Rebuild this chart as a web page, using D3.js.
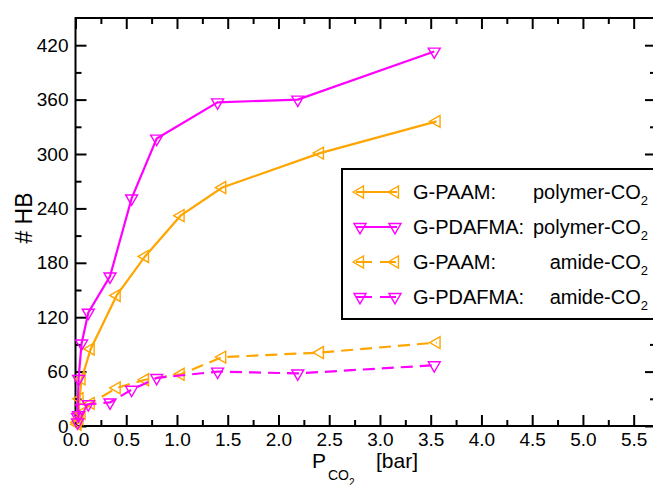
<!DOCTYPE html>
<html>
<head>
<meta charset="utf-8">
<script src="https://cdn.jsdelivr.net/npm/d3@7"></script>
<style>
  html, body { margin: 0; padding: 0; background: #fff; }
  svg { display: block; font-family: "Liberation Sans", Arial, Helvetica, sans-serif; }
</style>
</head>
<body>
<svg id="chart" width="653" height="485"></svg>
<script>
// CO2 pressure [bar] for each system
const pressurePAAM    = [0.02, 0.04, 0.06, 0.15, 0.406, 0.685, 1.036, 1.446, 2.409, 3.558];
const pressurePDAFMA  = [0.02, 0.03, 0.06, 0.126, 0.34, 0.553, 0.80, 1.40, 2.19, 3.535];

// number of hydrogen bonds
const hbPAAMpolymer   = [4, 30, 52, 85, 144, 187, 232, 263, 301, 336];
const hbPDAFMApolymer = [10, 52, 91, 125, 165, 251, 317, 357, 360, 413];
const hbPAAMamide     = [2, 8, 14, 25, 42, 51, 57, 76, 81, 92];
const hbPDAFMAamide   = [4, 12, 20, 24, 26, 40, 53, 60, 58, 67];

const xMajorTicks = [0, 0.5, 1.0, 1.5, 2.0, 2.5, 3.0, 3.5, 4.0, 4.5, 5.0, 5.5];
const yMajorTicks = [0, 60, 120, 180, 240, 300, 360, 420];

const ORANGE = "#FFA500";
const MAGENTA = "#FF00FF";

const series = [
  { name: "G-PAAM:", kind: "polymer-CO", x: pressurePAAM,   y: hbPAAMpolymer,   color: ORANGE,  marker: "left", dashed: false },
  { name: "G-PDAFMA:", kind: "polymer-CO", x: pressurePDAFMA, y: hbPDAFMApolymer, color: MAGENTA, marker: "down", dashed: false },
  { name: "G-PAAM:", kind: "amide-CO", x: pressurePAAM,   y: hbPAAMamide,     color: ORANGE,  marker: "left", dashed: true },
  { name: "G-PDAFMA:", kind: "amide-CO", x: pressurePDAFMA, y: hbPDAFMAamide,   color: MAGENTA, marker: "down", dashed: true }
];

const svg = d3.select("#chart");
const x = d3.scaleLinear().domain([0, 5.72]).range([75.5, 656]);
const y = d3.scaleLinear().domain([0, 450]).range([426, 18]);

const xMinor = d3.range(0, 5.72, 0.25).filter(v => Math.abs((v / 0.5) - Math.round(v / 0.5)) > 1e-6);
const yMinor = d3.range(30, 450, 60);

function styleAxis(g) {
  g.select(".domain").remove();
  g.selectAll("line").attr("stroke", "#000").attr("stroke-width", 2);
  g.selectAll("text").attr("fill", "#000").attr("font-size", 19);
}

// bottom axis
svg.append("g").attr("transform", `translate(0,${y(0)})`)
  .call(d3.axisBottom(x).tickValues(xMajorTicks).tickSize(-11).tickPadding(6.5).tickFormat(d3.format(".1f")))
  .call(styleAxis);
svg.append("g").attr("transform", `translate(0,${y(0)})`)
  .call(d3.axisBottom(x).tickValues(xMinor).tickSize(-6).tickFormat(""))
  .call(styleAxis);
// top axis (mirrored ticks)
svg.append("g").attr("transform", `translate(0,${y(450)})`)
  .call(d3.axisTop(x).tickValues(xMajorTicks).tickSize(-11).tickFormat(""))
  .call(styleAxis);
svg.append("g").attr("transform", `translate(0,${y(450)})`)
  .call(d3.axisTop(x).tickValues(xMinor).tickSize(-6).tickFormat(""))
  .call(styleAxis);
// left axis
svg.append("g").attr("transform", `translate(${x(0)},0)`)
  .call(d3.axisLeft(y).tickValues(yMajorTicks).tickSize(-11).tickPadding(7).tickFormat(d3.format("d")))
  .call(styleAxis);
svg.append("g").attr("transform", `translate(${x(0)},0)`)
  .call(d3.axisLeft(y).tickValues(yMinor).tickSize(-6).tickFormat(""))
  .call(styleAxis);
// right axis
svg.append("g").attr("transform", `translate(${x(5.72)},0)`)
  .call(d3.axisRight(y).tickValues(yMajorTicks).tickSize(-11).tickFormat(""))
  .call(styleAxis);
svg.append("g").attr("transform", `translate(${x(5.72)},0)`)
  .call(d3.axisRight(y).tickValues(yMinor).tickSize(-6).tickFormat(""))
  .call(styleAxis);

// frame
svg.append("rect")
  .attr("x", x(0)).attr("y", y(450))
  .attr("width", x(5.72) - x(0)).attr("height", y(0) - y(450))
  .attr("fill", "none").attr("stroke", "#000").attr("stroke-width", 2);

// markers: open triangles, pointing left (PAAM) or down (PDAFMA)
const triSize = 62;
function markerPath() {
  return d3.symbol(d3.symbolTriangle, triSize)();
}
function markerRotation(kind) {
  return kind === "left" ? -90 : 180;
}

const line = d3.line().x(d => x(d[0])).y(d => y(d[1]));

series.forEach(s => {
  const pts = s.x.map((v, i) => [v, s.y[i]]);
  const g = svg.append("g");
  g.append("path")
    .attr("d", line(pts))
    .attr("fill", "none")
    .attr("stroke", s.color)
    .attr("stroke-width", 2.2)
    .attr("stroke-dasharray", s.dashed ? "12,7" : null);
  g.selectAll("path.mk").data(pts).join("path")
    .attr("class", "mk")
    .attr("d", markerPath())
    .attr("transform", d => `translate(${x(d[0])},${y(d[1])}) rotate(${markerRotation(s.marker)})`)
    .attr("fill", "none")
    .attr("stroke", s.color)
    .attr("stroke-width", 1.4);
});

// legend
const legend = svg.append("g");
legend.append("rect")
  .attr("x", 342).attr("y", 169).attr("width", 330).attr("height", 150)
  .attr("fill", "#fff").attr("stroke", "#000").attr("stroke-width", 2);

series.forEach((s, i) => {
  const cy = 192 + i * 35;
  const row = legend.append("g");
  row.append("line")
    .attr("x1", 356).attr("x2", 397).attr("y1", cy).attr("y2", cy)
    .attr("stroke", s.color).attr("stroke-width", 2.2)
    .attr("stroke-dasharray", s.dashed ? "16,8" : null);
  [360, 395].forEach(mx => {
    row.append("path")
      .attr("d", markerPath())
      .attr("transform", `translate(${mx},${cy}) rotate(${markerRotation(s.marker)})`)
      .attr("fill", "none").attr("stroke", s.color).attr("stroke-width", 1.4);
  });
  row.append("text")
    .attr("x", 413).attr("y", cy + 7)
    .attr("font-size", 20).attr("fill", "#000")
    .text(s.name);
  const t = row.append("text")
    .attr("x", 648).attr("y", cy + 7)
    .attr("text-anchor", "end")
    .attr("font-size", 20).attr("fill", "#000");
  t.append("tspan").text(s.kind);
  t.append("tspan").attr("dy", 6).attr("font-size", 13).text("2");
});

// axis titles
svg.append("text")
  .attr("transform", "translate(32,218) rotate(-90)")
  .attr("text-anchor", "middle")
  .attr("font-size", 23).attr("fill", "#000")
  .text("# HB");

const xt = svg.append("text").attr("y", 468).attr("fill", "#000").attr("font-size", 21);
xt.append("tspan").attr("x", 312).text("P");
xt.append("tspan").attr("x", 328).attr("y", 480).attr("font-size", 14).text("CO");
xt.append("tspan").attr("y", 486).attr("font-size", 10).text("2");
xt.append("tspan").attr("x", 376).attr("y", 468).text("[bar]");
</script>
</body>
</html>
